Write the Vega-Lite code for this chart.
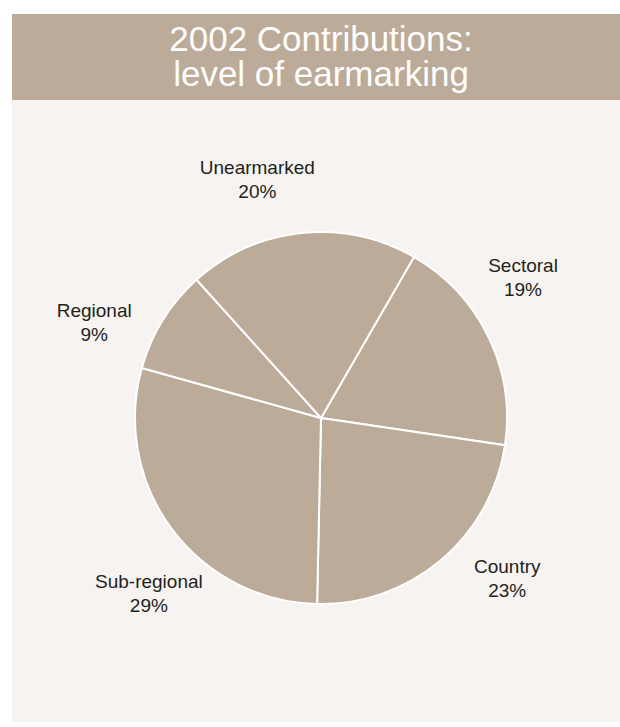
{
  "$schema": "https://vega.github.io/schema/vega-lite/v6.json",
  "background": "white",
  "padding": {"left": 12, "top": 14, "right": 0, "bottom": 0},
  "spacing": 0,
  "config": {"view": {"stroke": null}},
  "vconcat": [
    {
      "width": 608,
      "height": 86,
      "view": {"fill": "#bcab98", "stroke": null},
      "data": {"values": [{"title": "2002 Contributions:\nlevel of earmarking"}]},
      "mark": {"type": "text", "lineBreak": "\n", "fontSize": 35, "lineHeight": 35, "font": "Liberation Sans", "color": "white", "align": "center", "baseline": "middle", "xOffset": 5, "dy": -17},
      "encoding": {"text": {"field": "title", "type": "nominal"}}
    },
    {
      "width": 608,
      "height": 622,
      "view": {"fill": "#f7f3f0", "stroke": null},
      "data": {"values": [
        {"category": "Sectoral", "share": 0.19, "rank": 1},
        {"category": "Country", "share": 0.23, "rank": 2},
        {"category": "Sub-regional", "share": 0.29, "rank": 3},
        {"category": "Regional", "share": 0.09, "rank": 4},
        {"category": "Unearmarked", "share": 0.20, "rank": 5}
      ]},
      "layer": [
        {
          "mark": {"type": "arc", "outerRadius": 186, "fill": "#bcab98", "stroke": "white", "strokeWidth": 2, "xOffset": 5, "yOffset": 7},
          "encoding": {
            "theta": {"field": "share", "type": "quantitative", "stack": true, "scale": {"range": [0.5236, 6.8068]}},
            "order": {"field": "rank", "type": "quantitative"}
          }
        },
        {
          "mark": {"type": "text", "radius": 246, "font": "Liberation Sans", "fontSize": 19, "color": "#231f20", "align": "center", "baseline": "middle", "xOffset": 5, "yOffset": 7, "dy": -12},
          "encoding": {
            "theta": {"field": "share", "type": "quantitative", "stack": true, "scale": {"range": [0.3665, 6.6497]}},
            "order": {"field": "rank", "type": "quantitative"},
            "text": {"field": "category", "type": "nominal"}
          }
        },
        {
          "mark": {"type": "text", "radius": 246, "font": "Liberation Sans", "fontSize": 19, "color": "#231f20", "align": "center", "baseline": "middle", "xOffset": 5, "yOffset": 7, "dy": 12},
          "encoding": {
            "theta": {"field": "share", "type": "quantitative", "stack": true, "scale": {"range": [0.3665, 6.6497]}},
            "order": {"field": "rank", "type": "quantitative"},
            "text": {"field": "share", "type": "quantitative", "format": ".0%"}
          }
        }
      ],
      "resolve": {"scale": {"theta": "independent"}}
    }
  ]
}
